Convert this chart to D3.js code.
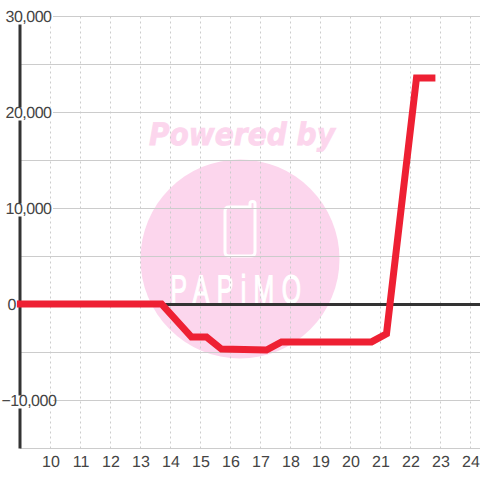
<!DOCTYPE html>
<html><head><meta charset="utf-8">
<script src="https://cdn.jsdelivr.net/npm/d3@7"></script>
<style>html,body{margin:0;padding:0;background:#fff}svg{display:block}text{text-rendering:geometricPrecision}</style>
</head><body><div id="c"></div>
<script>
const hours=[8.88,13.7,14.7,15.2,15.7,17.2,17.7,20.7,21.2,22.2,22.83];
const values=[0,0,-3450,-3450,-4700,-4800,-3950,-3950,-3100,23550,23550];
const xTicks=[10,11,12,13,14,15,16,17,18,19,20,21,22,23,24];
const yLabelTicks=[30000,20000,10000,0,-10000];
const yGridTicks=[30000,25000,20000,15000,10000,5000,0,-5000,-10000,-15000];

const svg=d3.select("#c").append("svg").attr("width",480).attr("height",480);
const x=d3.scaleLinear().domain([10,24]).range([50.5,470.5]);
const y=d3.scaleLinear().domain([-15000,30000]).range([448.5,16.5]);
const font="'Liberation Sans',Arial,sans-serif";

// watermark
const wm=svg.append("g");
wm.append("circle").attr("cx",240).attr("cy",259).attr("r",99.5).attr("fill","#fcd6ed");
wm.append("text").attr("x",242).attr("y",145).attr("text-anchor","middle")
  .attr("font-family","'DejaVu Sans',sans-serif").attr("font-weight","bold").attr("font-style","italic")
  .attr("font-size",31).attr("fill","#fcd6ed").attr("stroke","#fcd6ed").attr("stroke-width",0.8)
  .attr("textLength",186).attr("lengthAdjust","spacingAndGlyphs").text("Powered by");
wm.append("path").attr("d","M229 207H250V203.5Q250 201.5 252.5 201.5Q255 201.5 255 203.5V252Q255 256 251 256H229Q225 256 225 252V211Q225 207 229 207Z")
  .attr("fill","none").attr("stroke","#fff").attr("stroke-width",3);
wm.append("text").attr("transform","translate(239.5,302.5) scale(0.62,1)").attr("text-anchor","middle")
  .attr("font-family",font).attr("font-size",40).attr("letter-spacing",12).attr("fill","#fff")
  .attr("stroke","#fff").attr("stroke-width",1.2).text("PAPiMO");

// grid
svg.append("g").selectAll("line").data(yGridTicks).join("line")
  .attr("x1",20).attr("x2",480).attr("y1",d=>y(d)).attr("y2",d=>y(d))
  .attr("stroke","#cccccc").attr("stroke-width",1);
svg.append("g").selectAll("line").data(xTicks).join("line")
  .attr("x1",d=>x(d)).attr("x2",d=>x(d)).attr("y1",y(30000)).attr("y2",y(-15000))
  .attr("stroke","#cccccc").attr("stroke-width",1).attr("stroke-dasharray","2,3");

// axes
svg.append("line").attr("x1",20).attr("x2",20).attr("y1",y(30000)).attr("y2",y(-15000)).attr("stroke","#333").attr("stroke-width",3);
svg.append("line").attr("x1",20).attr("x2",480).attr("y1",y(0)).attr("y2",y(0)).attr("stroke","#333").attr("stroke-width",3);

// y labels with background
const fmt=d3.format(",");
const lab=svg.append("g").selectAll("g").data(yLabelTicks).join("g");
lab.filter(d=>d!==0).append("rect").attr("x",0).attr("width",53).attr("y",d=>y(d)-(d===30000?9:5)).attr("height",d=>d===30000?17:13).attr("fill","#fff");
lab.append("text").attr("x",d=>d<0?1.5:d>0?5.5:7.5).attr("y",d=>y(d)).attr("dy","0.35em")
  .attr("font-family",font).attr("font-size",16).attr("letter-spacing",-0.5).attr("fill","#444").text(d=>fmt(d));

// x labels
svg.append("g").selectAll("text").data(xTicks).join("text")
  .attr("x",d=>x(d)+0.5).attr("y",461).attr("dy","0.35em").attr("text-anchor","middle")
  .attr("font-family",font).attr("font-size",16).attr("fill","#444").text(d=>d);

// series
const line=d3.line().x((d,i)=>x(hours[i])).y(d=>y(d));
svg.append("path").datum(values).attr("d",line).attr("fill","none").attr("transform","translate(0,-0.5)")
  .attr("stroke","#ee2033").attr("stroke-width",7).attr("stroke-linejoin","miter");
</script></body></html>
